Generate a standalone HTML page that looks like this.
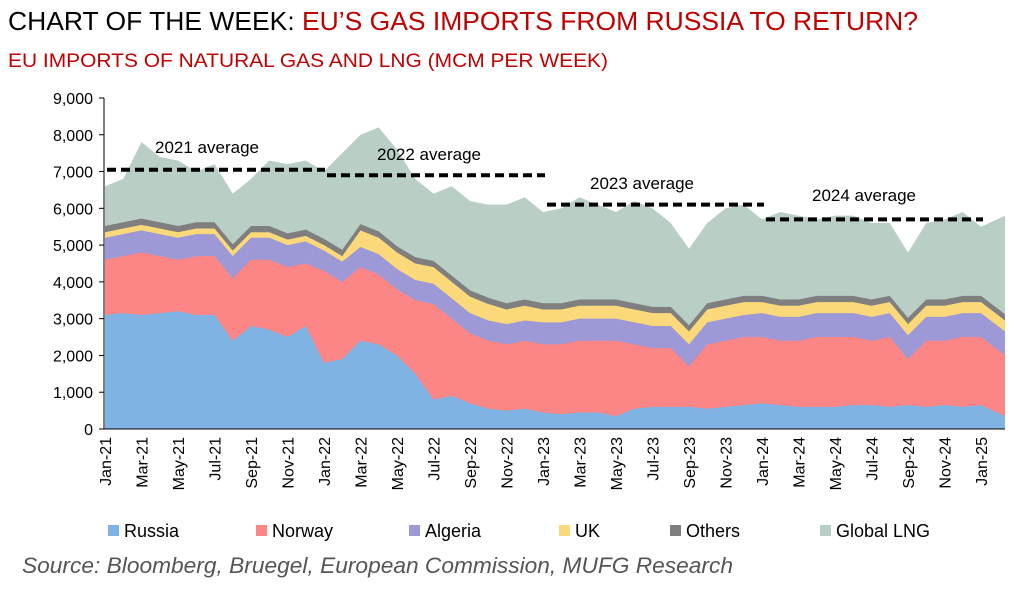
<!DOCTYPE html>
<html><head><meta charset="utf-8"><style>
body{margin:0;background:#fff;width:1022px;height:586px;overflow:hidden;font-family:"Liberation Sans",Arial,sans-serif}
</style></head><body>
<svg id="s" width="1022" height="586" xmlns="http://www.w3.org/2000/svg" font-family="Liberation Sans, Arial, sans-serif">
<text x="8" y="30" font-size="26" fill="#000" textLength="910" lengthAdjust="spacingAndGlyphs">CHART OF THE WEEK: <tspan fill="#c00000">EU’S GAS IMPORTS FROM RUSSIA TO RETURN?</tspan></text>
<text x="8" y="67" font-size="19" fill="#c00000" textLength="600" lengthAdjust="spacingAndGlyphs">EU IMPORTS OF NATURAL GAS AND LNG (MCM PER WEEK)</text>
<g id="areas"></g>
<g id="axes"></g>
</svg>
<script>
const s=document.getElementById('areas'),ax=document.getElementById('axes');
const NS='http://www.w3.org/2000/svg';
function el(p,t,a,txt){const e=document.createElementNS(NS,t);for(const k in a)e.setAttribute(k,a[k]);if(txt!==undefined)e.textContent=txt;p.appendChild(e);return e;}
const y=v=>429-v*36.78;
const R=[3.1,3.15,3.1,3.15,3.2,3.1,3.1,2.4,2.8,2.7,2.5,2.8,1.8,1.9,2.4,2.3,2.0,1.5,0.8,0.9,0.7,0.55,0.5,0.55,0.45,0.4,0.45,0.45,0.35,0.55,0.6,0.6,0.6,0.55,0.6,0.65,0.7,0.65,0.6,0.6,0.6,0.65,0.65,0.6,0.65,0.6,0.65,0.6,0.65,0.35];
const N=[4.6,4.7,4.8,4.7,4.6,4.7,4.7,4.1,4.6,4.6,4.4,4.5,4.3,4.0,4.4,4.2,3.8,3.5,3.4,3.0,2.6,2.4,2.3,2.4,2.3,2.3,2.4,2.4,2.4,2.3,2.2,2.2,1.7,2.3,2.4,2.5,2.5,2.4,2.4,2.5,2.5,2.5,2.4,2.5,1.9,2.4,2.4,2.5,2.5,2.0];
const A=N.map((v,i)=>v+(i<12?0.6:i<24?0.55:i<36?0.6:0.65));
const U=A.map((v,i)=>v+(i<12?0.15:i<14?0.15:i<22?0.45:i<24?0.4:i<36?0.35:0.3));
const O=U.map(v=>v+0.17);
const L=[6.6,6.8,7.8,7.4,7.3,7.0,7.2,6.4,6.8,7.3,7.2,7.3,7.0,7.5,8.0,8.2,7.6,6.8,6.4,6.6,6.2,6.1,6.1,6.3,5.9,6.0,6.3,6.1,5.9,6.2,6.0,5.6,4.9,5.6,6.0,6.1,5.7,5.9,5.8,5.7,5.8,5.8,5.6,5.6,4.8,5.6,5.7,5.9,5.5,5.8];
const xs=R.map((_,i)=>i<49?105+i*18.25:1005);
const layers=[[L,'#b9cec5'],[O,'#7f7f7f'],[U,'#fbd97a'],[A,'#9d98d6'],[N,'#fc8686'],[R,'#7eb3e3']];
layers.forEach(([d,c])=>{let p=`105,429 `+d.map((v,i)=>xs[i]+','+y(v)).join(' ')+` 1005,429`;el(s,'polygon',{points:p,fill:c});});
el(ax,'line',{x1:104,y1:98,x2:104,y2:429,stroke:'#000','stroke-width':1});
el(ax,'line',{x1:104,y1:429,x2:1005,y2:429,stroke:'#000','stroke-width':1});
for(let v=0;v<=9;v++){el(ax,'line',{x1:99,y1:y(v),x2:104,y2:y(v),stroke:'#000'});el(ax,'text',{x:93,y:y(v)+6,'font-size':16,'text-anchor':'end'},v==0?'0':v+',000');}
const mon=['Jan','Mar','May','Jul','Sep','Nov'];
for(let i=0;i<=24;i++){const yr=21+Math.floor(i/6);const x=105+i*36.5+6;
 el(ax,'text',{x:0,y:0,'font-size':16,'text-anchor':'end',transform:`translate(${x},437) rotate(-90)`},mon[i%6]+'-'+yr);}
const avg=[[7.05,107,325,'2021 average',155,153],[6.9,327,545,'2022 average',377,160],[6.1,547,764,'2023 average',590,189],[5.7,766,983,'2024 average',812,201]];
avg.forEach(a=>{el(ax,'line',{x1:a[1],y1:y(a[0]),x2:a[2],y2:y(a[0]),stroke:'#000','stroke-width':4,'stroke-dasharray':'9,5'});el(ax,'text',{x:a[4],y:a[5],'font-size':17},a[3]);});
const leg=[['Russia','#7eb3e3',108],['Norway','#fc8686',256],['Algeria','#9d98d6',409],['UK','#fbd97a',559],['Others','#7f7f7f',670],['Global LNG','#b9cec5',820]];
leg.forEach(l=>{el(ax,'rect',{x:l[2],y:525,width:11,height:11,fill:l[1]});el(ax,'text',{x:l[2]+16,y:537,'font-size':18},l[0]);});
el(ax,'text',{x:22,y:573,'font-size':22,'font-style':'italic',fill:'#555',textLength:711,lengthAdjust:'spacingAndGlyphs'},'Source: Bloomberg, Bruegel, European Commission, MUFG Research');
</script>
</body></html>
